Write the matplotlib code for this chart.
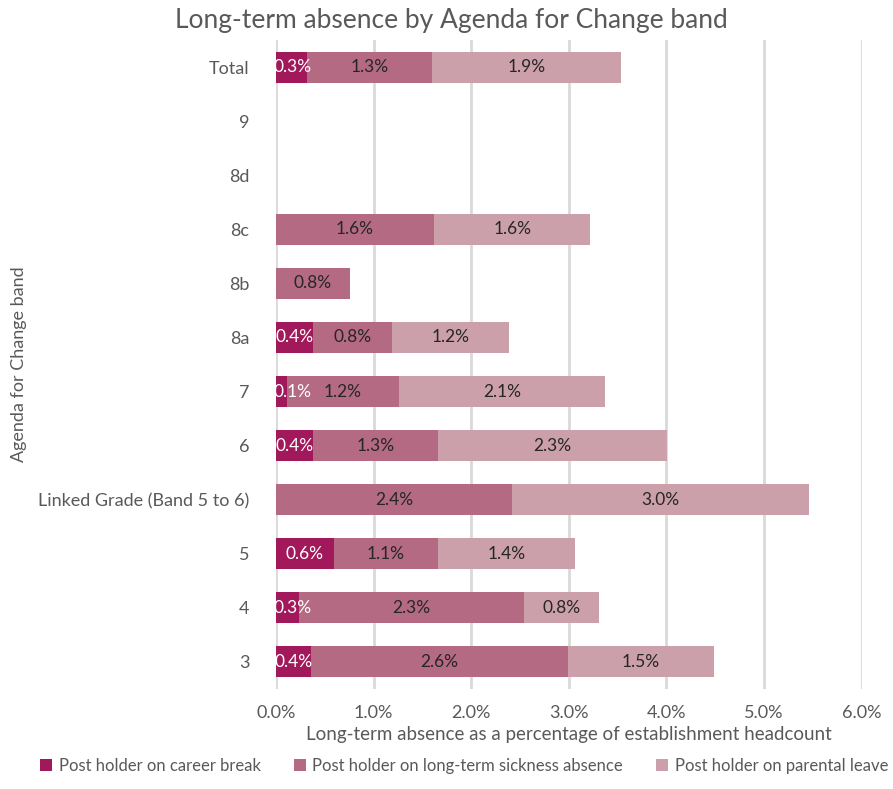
import matplotlib.pyplot as plt
import numpy as np

plt.rcParams['font.family'] = ['Lato', 'DejaVu Sans']

bands = ["3", "4", "5", "Linked Grade (Band 5 to 6)", "6", "7", "8a", "8b", "8c", "8d", "9", "Total"]
career = [0.36, 0.24, 0.59, 0.0, 0.38, 0.11, 0.38, 0.0, 0.0, 0.0, 0.0, 0.32]
sickness = [2.63, 2.30, 1.07, 2.42, 1.28, 1.15, 0.81, 0.76, 1.62, 0.0, 0.0, 1.28]
parental = [1.50, 0.77, 1.40, 3.04, 2.35, 2.11, 1.20, 0.0, 1.60, 0.0, 0.0, 1.93]
career_lbl = ["0.4%", "0.3%", "0.6%", "", "0.4%", "0.1%", "0.4%", "", "", "", "", "0.3%"]
sick_lbl = ["2.6%", "2.3%", "1.1%", "2.4%", "1.3%", "1.2%", "0.8%", "0.8%", "1.6%", "", "", "1.3%"]
par_lbl = ["1.5%", "0.8%", "1.4%", "3.0%", "2.3%", "2.1%", "1.2%", "", "1.6%", "", "", "1.9%"]

c_career = "#A2195B"
c_sick = "#B36A82"
c_par = "#CCA0AB"
grey = "#595959"

fig = plt.figure(figsize=(8.93, 7.89), dpi=100)
ax = fig.add_axes([0.309, 0.127, 0.656, 0.822])

y = np.arange(len(bands))
h = 0.57
b1 = ax.barh(y, career, h, color=c_career, label="Post holder on career break", zorder=3)
b2 = ax.barh(y, sickness, h, left=career, color=c_sick,
             label="Post holder on long-term sickness absence", zorder=3)
left3 = np.array(career) + np.array(sickness)
b3 = ax.barh(y, parental, h, left=left3, color=c_par,
             label="Post holder on parental leave", zorder=3)

t1 = ax.bar_label(b1, labels=career_lbl, label_type='center', color='white', fontsize=12.5, zorder=4)
ax.bar_label(b2, labels=sick_lbl, label_type='center', color='#262626', fontsize=12.5, zorder=4)
ax.bar_label(b3, labels=par_lbl, label_type='center', color='#262626', fontsize=12.5, zorder=4)

ax.set_xlim(0, 6)
ax.set_ylim(-0.5, len(bands) - 0.5)
ax.set_xticks(np.arange(0, 6.5, 1))
ax.set_xticklabels([f"{v:.1f}%" for v in np.arange(0, 6.5, 1)])
ax.set_yticks(y)
ax.set_yticklabels(bands)
ax.tick_params(axis='both', length=0, colors=grey, labelsize=13)
ax.tick_params(axis='y', pad=19)
ax.tick_params(axis='x', pad=12)
ax.xaxis.grid(True, color="#D9D9D9", linewidth=2, zorder=0)
for s in ax.spines.values():
    s.set_visible(False)

ax.set_xlabel("Long-term absence as a percentage of establishment headcount", color=grey, fontsize=13.5, labelpad=3)
fig.text(0.021, 0.538, "Agenda for Change band", rotation=90, color=grey, fontsize=13, ha='center', va='center')
fig.suptitle("Long-term absence by Agenda for Change band", color=grey, fontsize=19, y=0.99, x=0.506)

fig.legend(handles=[b1, b2, b3], loc='lower center', bbox_to_anchor=(0.52, 0.0), ncol=3, frameon=False,
           fontsize=12, handlelength=0.7, handleheight=0.7, handletextpad=0.4, columnspacing=2.0,
           labelcolor=grey)

# keep small career-break labels inside the plot area, like Excel does
fig.canvas.draw()
r = fig.canvas.get_renderer()
ax_left = ax.get_window_extent(r).x0
for t in t1:
    if not t.get_text():
        continue
    x0 = t.get_window_extent(r).x0
    if x0 < ax_left - 2:
        dx_pt = (ax_left - 2 - x0) * 72 / fig.dpi
        ox, oy = t.xyann
        t.xyann = (ox + dx_pt, oy)

fig.savefig("out.png", dpi=100)
